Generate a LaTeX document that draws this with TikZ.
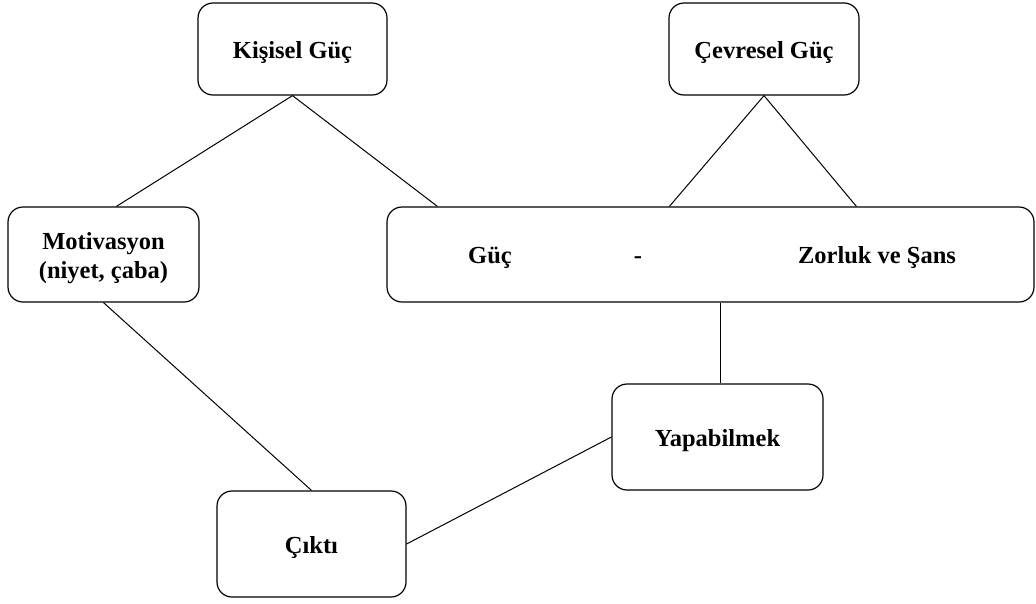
\documentclass[tikz,border=0pt]{standalone}
\usepackage{fontspec}
\setmainfont{Liberation Serif}
\usetikzlibrary{calc}
\begin{document}
\begin{tikzpicture}[x=1pt,y=-1pt,
  box/.style={draw, line width=1.2pt, rounded corners=15pt, inner sep=0pt},
  lbl/.style={inner sep=0pt, align=center,
    font=\fontsize{24.5}{29}\selectfont\bfseries},
  txt/.style={label={[lbl, yshift=-3.5pt]center:#1}},
  link/.style={line width=1pt}]
\useasboundingbox (0,0) rectangle (1036,603);

% boxes with their centred captions
\node[box, minimum width=189pt, minimum height=92pt, txt={Kişisel Güç}] (kg) at (292.5,49) {};
\node[box, minimum width=190pt, minimum height=92pt, txt={Çevresel Güç}] (cg) at (764,49) {};
\node[box, minimum width=191pt, minimum height=95pt, txt={Motivasyon\\(niyet, çaba)}] (mot) at (103.5,254.5) {};
\node[box, minimum width=647pt, minimum height=95pt] (gz) at (710.5,254.5) {};
\node[lbl] (guc) at (490,258) {Güç};
\node[lbl] (dash) at (638,260) {-};
\node[lbl] (zs) at (877,258) {Zorluk ve Şans};
\node[box, minimum width=211pt, minimum height=106pt, txt={Yapabilmek}] (yap) at (717.5,437) {};
\node[box, minimum width=189pt, minimum height=106pt, txt={Çıktı}] (cik) at (311.5,544) {};

% attachment points on box edges
\coordinate (motTop) at ($(mot.north west)+(109,0)$);
\coordinate (gzA) at ($(gz.north west)+(51,0)$);
\coordinate (gzB) at ($(gz.north west)+(283,0)$);
\coordinate (gzC) at ($(gz.north west)+(470,0)$);
\coordinate (gzBot) at ($(gz.south west)+(334,0)$);
\coordinate (yapTop) at ($(yap.north west)+(109,0)$);

% connectors
\draw[link] (kg.south) -- (motTop);
\draw[link] (kg.south) -- (gzA);
\draw[link] (cg.south) -- (gzB);
\draw[link] (cg.south) -- (gzC);
\draw[link] (gzBot) -- (yapTop);
\draw[link] (mot.south) -- (cik.north);
\draw[link] (yap.west) -- (cik.east);
\end{tikzpicture}
\end{document}
